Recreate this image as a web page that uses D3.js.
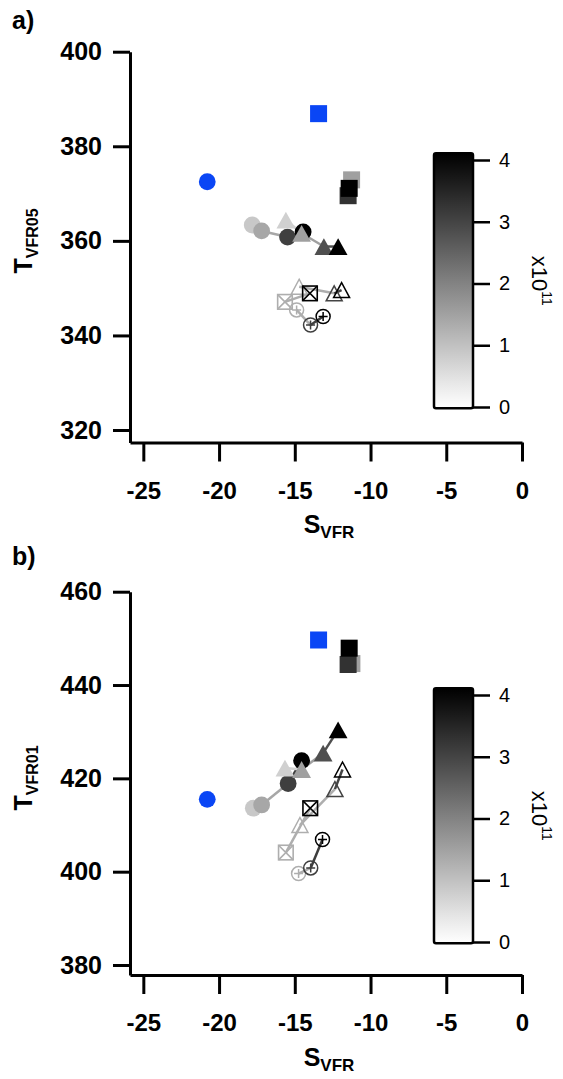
<!DOCTYPE html>
<html>
<head>
<meta charset="utf-8">
<script src="https://cdn.jsdelivr.net/npm/d3@7"></script>
<style>
body { margin: 0; background: #fff; }
text { font-family: "Liberation Sans", Arial, sans-serif; }
</style>
</head>
<body>
<svg id="chart" width="563" height="1079"></svg>
<script>
// colour values (x10^11), shared by both panels
const zCircle = [0.89, 1.41, 3.09, 4.1];
const zTri = [0.76, 1.53, 2.83, 4.1];
const zSquare = [1.53, 3.30, 4.1];
const zOpenTri = [1.3, 3.0, 4.1];
const zBox = [1.3, 4.1];
const zOpenCirc = [1.3, 3.1, 4.1];

// panel a: S_VFR / T_VFR05
const aCircleS = [-17.81, -17.19, -15.48, -14.45];
const aCircleT = [363.35, 362.1, 360.8, 361.9];
const aTriS = [-15.59, -14.55, -13.08, -12.14];
const aTriT = [364.4, 361.6, 358.8, 358.8];
const aSquareS = [-11.25, -11.48, -11.41];
const aSquareT = [372.9, 369.55, 371.1];
const aOpenTriS = [-14.71, -12.40, -11.91];
const aOpenTriT = [350.3, 348.9, 349.6];
const aBoxS = [-15.65, -14.0];
const aBoxT = [347.1, 348.9];
const aOpenCircS = [-14.88, -13.96, -13.13];
const aOpenCircT = [345.4, 342.2, 344.0];
const aBlueCircle = [-20.78, 372.5];
const aBlueSquare = [-13.43, 386.9];

// panel b: S_VFR / T_VFR01
const bCircleS = [-17.74, -17.19, -15.44, -14.55];
const bCircleT = [413.6, 414.3, 418.9, 423.8];
const bTriS = [-15.65, -14.55, -13.13, -12.14];
const bTriT = [422.2, 421.9, 425.4, 430.4];
const bSquareS = [-11.23, -11.48, -11.41];
const bSquareT = [444.6, 444.4, 447.9];
const bOpenTriS = [-14.66, -12.35, -11.85];
const bOpenTriT = [410.0, 417.7, 421.9];
const bBoxS = [-15.59, -13.98];
const bBoxT = [404.1, 413.6];
const bOpenCircS = [-14.75, -13.95, -13.17];
const bOpenCircT = [399.6, 400.8, 406.9];
const bBlueCircle = [-20.78, 415.5];
const bBlueSquare = [-13.43, 449.65];

const sTicks = [-25, -20, -15, -10, -5, 0];
const aTTicks = [320, 340, 360, 380, 400];
const bTTicks = [380, 400, 420, 440, 460];
const zTicks = [0, 1, 2, 3, 4];

const blue = "#0a46f5";
const svg = d3.select("#chart");
const colour = d3.scaleLinear().domain([0, 4.1]).range(["#ffffff", "#000000"]).clamp(true);

const plotLeft = 130, plotRight = 522;

function styleAxis(g, size, weight) {
	g.select(".domain").attr("stroke-width", 3).attr("stroke", "#000");
	g.selectAll(".tick line").attr("stroke-width", 3).attr("stroke", "#000");
	g.selectAll(".tick text")
		.attr("fill", "#000")
		.style("font-size", size + "px")
		.style("font-weight", weight);
}

function drawPanel(p) {
	const g = svg.append("g");

	const x = d3.scaleLinear().domain([-25.88, 0]).range([plotLeft, plotRight]);
	const y = d3.scaleLinear().domain(p.tDomain).range([p.bottom, p.top]);

	// axes
	g.append("g")
		.attr("transform", `translate(${plotLeft},0)`)
		.call(d3.axisLeft(y).tickValues(p.tTicks).tickSizeInner(17).tickSizeOuter(0).tickPadding(11).tickFormat(d => String(d)))
		.call(a => styleAxis(a, 25, "bold"));

	g.append("g")
		.attr("transform", `translate(0,${p.bottom})`)
		.call(d3.axisBottom(x).tickValues(sTicks).tickSizeInner(19).tickSizeOuter(0).tickPadding(20).tickFormat(d => String(d)))
		.call(a => styleAxis(a, 24, "bold"));

	// panel letter
	g.append("text")
		.attr("x", 12).attr("y", p.letterY)
		.style("font-size", "25px").style("font-weight", "bold")
		.text(p.letter);

	// y title
	const yt = g.append("text")
		.attr("transform", `translate(32,${p.yTitleY}) rotate(-90)`)
		.attr("text-anchor", "middle")
		.style("font-weight", "bold");
	yt.append("tspan").style("font-size", "25px").text("T");
	yt.append("tspan").style("font-size", "16px").attr("dy", 6).text(p.yTitleSub);

	// x title
	const xt = g.append("text")
		.attr("x", 329).attr("y", p.bottom + 90.5)
		.attr("text-anchor", "middle")
		.style("font-weight", "bold");
	xt.append("tspan").style("font-size", "25px").text("S");
	xt.append("tspan").style("font-size", "17px").attr("dy", 5).text("VFR");

	// connecting lines, each segment coloured by its starting point
	const lineSeries = [
		[p.circleS, p.circleT, zCircle],
		[p.triS, p.triT, zTri],
		[p.openTriS, p.openTriT, zOpenTri],
		[p.boxS, p.boxT, zBox],
		[p.openCircS, p.openCircT, zOpenCirc]
	];
	lineSeries.forEach(([S, T, Z]) => {
		const rows = d3.zip(S, T, Z);
		const segs = d3.pairs(rows);
		g.append("g").selectAll("line").data(segs).join("line")
			.attr("x1", d => x(d[0][0])).attr("y1", d => y(d[0][1]))
			.attr("x2", d => x(d[1][0])).attr("y2", d => y(d[1][1]))
			.attr("stroke", d => colour(d[0][2]))
			.attr("stroke-width", 2.5);
	});

	// open markers
	g.append("g").selectAll("path").data(d3.zip(p.openTriS, p.openTriT, zOpenTri)).join("path")
		.attr("transform", d => `translate(${x(d[0])},${y(d[1])})`)
		.attr("d", "M0,-7.5L8,7.5L-8,7.5Z")
		.attr("fill", "none")
		.attr("stroke", d => colour(d[2]))
		.attr("stroke-width", 1.5);

	const box = g.append("g").selectAll("g").data(d3.zip(p.boxS, p.boxT, zBox)).join("g")
		.attr("transform", d => `translate(${x(d[0])},${y(d[1])})`)
		.attr("stroke", d => colour(d[2]))
		.attr("stroke-width", 1.6)
		.attr("fill", "none");
	box.append("rect").attr("x", -7.3).attr("y", -7.3).attr("width", 14.6).attr("height", 14.6);
	box.append("path").attr("d", "M-7.3,-7.3L7.3,7.3M7.3,-7.3L-7.3,7.3");

	const oc = g.append("g").selectAll("g").data(d3.zip(p.openCircS, p.openCircT, zOpenCirc)).join("g")
		.attr("transform", d => `translate(${x(d[0])},${y(d[1])})`)
		.attr("stroke", d => colour(d[2]))
		.attr("stroke-width", 1.5)
		.attr("fill", "none");
	oc.append("circle").attr("r", 7);
	oc.append("path").attr("d", "M-4.5,0H4.5M0,-4.5V4.5");

	// filled markers
	g.append("g").selectAll("circle").data(d3.zip(p.circleS, p.circleT, zCircle)).join("circle")
		.attr("cx", d => x(d[0])).attr("cy", d => y(d[1]))
		.attr("r", 8.4)
		.attr("fill", d => colour(d[2]));

	g.append("g").selectAll("path").data(d3.zip(p.triS, p.triT, zTri)).join("path")
		.attr("transform", d => `translate(${x(d[0])},${y(d[1])})`)
		.attr("d", "M0,-8.4L9.4,8.4L-9.4,8.4Z")
		.attr("fill", d => colour(d[2]));

	g.append("g").selectAll("rect").data(d3.zip(p.squareS, p.squareT, zSquare)).join("rect")
		.attr("x", d => x(d[0]) - 8.5).attr("y", d => y(d[1]) - 8.5)
		.attr("width", 17).attr("height", 17)
		.attr("fill", d => colour(d[2]));

	// reference points
	g.append("circle")
		.attr("cx", x(p.blueCircle[0])).attr("cy", y(p.blueCircle[1]))
		.attr("r", 8.4).attr("fill", blue);
	g.append("rect")
		.attr("x", x(p.blueSquare[0]) - 8.5).attr("y", y(p.blueSquare[1]) - 8.5)
		.attr("width", 17).attr("height", 17).attr("fill", blue);

	// colour bar
	const z = d3.scaleLinear().domain([0, 4]).range([p.cbZero, p.cbFour]);
	const zLo = -0.02, zHi = 4.11;
	const gradId = "grad" + p.letter.charAt(0);
	const grad = svg.append("defs").append("linearGradient")
		.attr("id", gradId)
		.attr("x1", 0).attr("y1", 1).attr("x2", 0).attr("y2", 0);
	d3.range(0, 11).forEach(i => {
		const v = zLo + (zHi - zLo) * i / 10;
		grad.append("stop").attr("offset", i / 10).attr("stop-color", colour(v));
	});
	g.append("rect")
		.attr("x", 434).attr("y", z(zHi))
		.attr("width", 39).attr("height", z(zLo) - z(zHi))
		.attr("rx", 2)
		.attr("fill", `url(#${gradId})`)
		.attr("stroke", "#000").attr("stroke-width", 2.5);

	g.append("g")
		.attr("transform", "translate(473,0)")
		.call(d3.axisRight(z).tickValues(zTicks).tickSizeInner(17).tickSizeOuter(0).tickPadding(9).tickFormat(d => String(d)))
		.call(a => {
			styleAxis(a, 20, "normal");
			a.select(".domain").remove();
			a.selectAll(".tick line").attr("stroke-width", 2.5);
		});

	const zt = g.append("text")
		.attr("transform", `translate(532,${(z(zHi) + z(zLo)) / 2}) rotate(90)`)
		.attr("text-anchor", "middle");
	zt.append("tspan").style("font-size", "22px").text("x10");
	zt.append("tspan").style("font-size", "14px").attr("dy", -10).text("11");
}

drawPanel({
	letter: "a)", letterY: 29, yTitleY: 241, yTitleSub: "VFR05",
	top: 51.7, bottom: 442.5, tDomain: [317.36, 400], tTicks: aTTicks,
	cbZero: 407, cbFour: 160,
	circleS: aCircleS, circleT: aCircleT, triS: aTriS, triT: aTriT,
	squareS: aSquareS, squareT: aSquareT, openTriS: aOpenTriS, openTriT: aOpenTriT,
	boxS: aBoxS, boxT: aBoxT, openCircS: aOpenCircS, openCircT: aOpenCircT,
	blueCircle: aBlueCircle, blueSquare: aBlueSquare
});

drawPanel({
	letter: "b)", letterY: 565, yTitleY: 778, yTitleSub: "VFR01",
	top: 591.7, bottom: 975, tDomain: [377.86, 460], tTicks: bTTicks,
	cbZero: 942, cbFour: 695,
	circleS: bCircleS, circleT: bCircleT, triS: bTriS, triT: bTriT,
	squareS: bSquareS, squareT: bSquareT, openTriS: bOpenTriS, openTriT: bOpenTriT,
	boxS: bBoxS, boxT: bBoxT, openCircS: bOpenCircS, openCircT: bOpenCircT,
	blueCircle: bBlueCircle, blueSquare: bBlueSquare
});
</script>
</body>
</html>
